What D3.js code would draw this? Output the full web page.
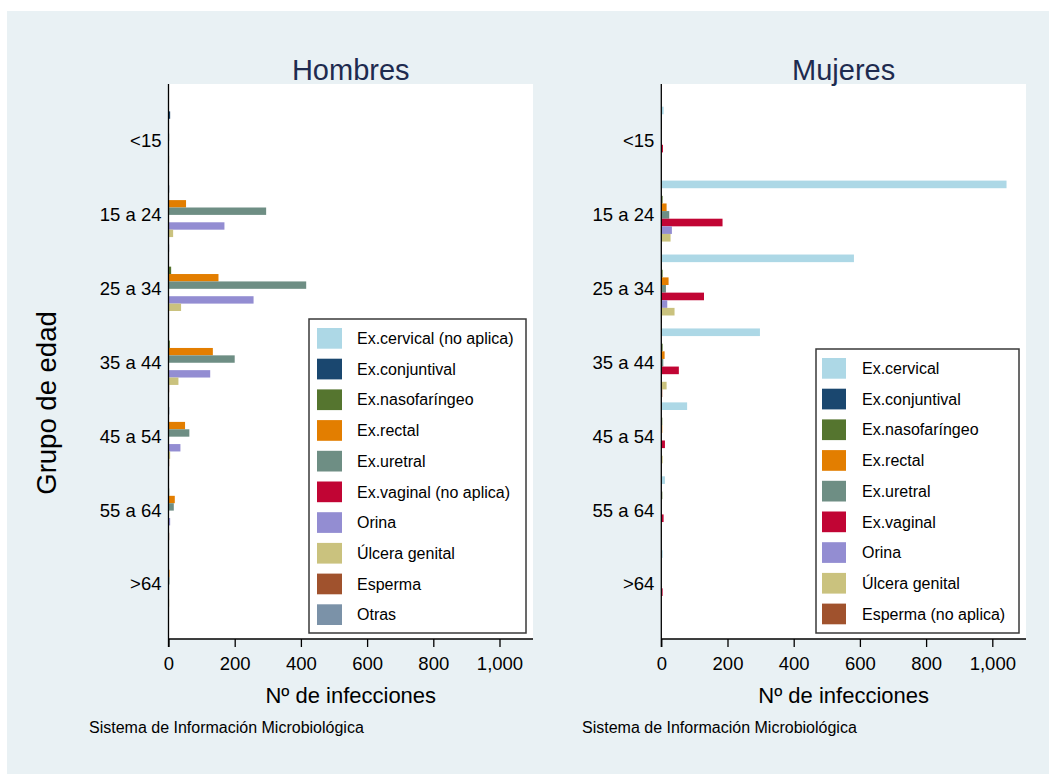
<!DOCTYPE html>
<html><head><meta charset="utf-8">
<script src="https://cdn.jsdelivr.net/npm/d3@7"></script>
<style>body{margin:0;background:#fff}svg{display:block;font-family:"Liberation Sans",Arial,sans-serif}</style>
</head><body><svg id="c" width="1049" height="774"></svg>
<script>
const groups = ["<15","15 a 24","25 a 34","35 a 44","45 a 54","55 a 64",">64"];
const xTicks = [0,200,400,600,800,1000];
const seriesMen = ["Ex.cervical (no aplica)","Ex.conjuntival","Ex.nasofaríngeo","Ex.rectal","Ex.uretral","Ex.vaginal (no aplica)","Orina","Úlcera genital","Esperma","Otras"];
const seriesWomen = ["Ex.cervical","Ex.conjuntival","Ex.nasofaríngeo","Ex.rectal","Ex.uretral","Ex.vaginal","Orina","Úlcera genital","Esperma (no aplica)"];
const colorsMen = ["#add8e6","#1a476f","#55752f","#e37e00","#6e8e84","#c10534","#938dd2","#cac27e","#a0522d","#7b92a8"];
const colorsWomen = ["#add8e6","#1a476f","#55752f","#e37e00","#6e8e84","#c10534","#938dd2","#cac27e","#a0522d"];
// values per age group, in series order
const valuesMen = [
  [0,5,0,0,2,0,0,2,0,1],
  [0,2,0,53,295,1,169,14,0,2],
  [0,1,8,151,416,1,257,38,1,1],
  [0,1,4,134,200,0,126,30,2,0],
  [0,2,0,50,63,0,36,5,2,0],
  [0,0,2,19,16,0,5,0,2,0],
  [0,0,0,3,3,0,0,2,0,0]
];
const valuesWomen = [
  [7,2,2,0,0,5,1,2,0],
  [1043,0,4,16,24,185,32,28,0],
  [582,2,4,22,14,129,18,40,2],
  [298,0,4,10,6,53,2,16,3],
  [78,0,3,3,0,11,0,4,0],
  [11,0,3,0,0,7,0,2,0],
  [4,0,0,0,0,4,0,0,0]
];

const svg = d3.select("#c");
const FONT = '"Liberation Sans",Arial,sans-serif';
svg.append("rect").attr("x",7).attr("y",11).attr("width",1042).attr("height",763).attr("fill","#e9f1f4");

const plotTop = 84, plotBottom = 639;
const y = d3.scaleBand().domain(groups).range([104, 621.5]).padding(0);

function panel(opt){
  const g = svg.append("g");
  const x = d3.scaleLinear().domain([0,1100]).range([opt.x0, opt.x0+364.1]);
  g.append("rect").attr("x",opt.x0).attr("y",plotTop).attr("width",opt.x1-opt.x0).attr("height",plotBottom-plotTop).attr("fill","#fff");
  const inner = d3.scaleBand().domain(d3.range(opt.series.length)).range([0,y.bandwidth()]).paddingOuter(opt.pad).paddingInner(0);
  opt.values.forEach((row,gi)=>{
    g.selectAll(null).data(row).enter().append("rect")
      .attr("x",x(0))
      .attr("y",(d,i)=>y(groups[gi])+inner(i))
      .attr("height",inner.bandwidth())
      .attr("width",d=>x(d)-x(0))
      .attr("fill",(d,i)=>opt.colors[i]);
  });
  const xa = g.append("g").attr("transform",`translate(0,${plotBottom})`)
    .call(d3.axisBottom(x).tickValues(xTicks).tickFormat(d3.format(",")).tickSize(8).tickPadding(10).tickSizeOuter(0));
  xa.select(".domain").remove();
  xa.selectAll("line").attr("stroke","#000").attr("stroke-width",1.3);
  xa.selectAll("text").attr("font-family",FONT).attr("font-size",18.5).attr("fill","#000");
  g.append("line").attr("x1",opt.x0).attr("x2",opt.x1).attr("y1",plotBottom).attr("y2",plotBottom).attr("stroke","#000").attr("stroke-width",1.3);
  const ya = g.append("g").attr("transform",`translate(${opt.x0},0)`)
    .call(d3.axisLeft(y).tickSize(0).tickPadding(7));
  ya.select(".domain").remove();
  ya.selectAll("text").attr("font-family",FONT).attr("font-size",18.5).attr("fill","#000");
  g.append("line").attr("x1",opt.x0).attr("x2",opt.x0).attr("y1",plotTop).attr("y2",plotBottom+8).attr("stroke","#000").attr("stroke-width",1.3);
  const cx = (opt.x0+opt.x1)/2;
  g.append("text").attr("x",cx).attr("y",80).attr("text-anchor","middle").attr("font-size",29).attr("fill","#1e2b4f").text(opt.title);
  g.append("text").attr("x",cx).attr("y",703).attr("text-anchor","middle").attr("font-size",22).attr("fill","#000").text("Nº de infecciones");
  g.append("text").attr("x",opt.noteX).attr("y",733).attr("font-size",16).attr("fill","#000").text("Sistema de Información Microbiológica");
  const L = opt.legend;
  g.append("rect").attr("x",L.x).attr("y",L.y).attr("width",L.w).attr("height",L.h).attr("fill","#fff").attr("stroke","#3a3a3a").attr("stroke-width",1.5);
  const items = g.selectAll(null).data(opt.series).enter().append("g")
    .attr("transform",(d,i)=>`translate(${L.x+L.sx},${L.y+L.sy+i*30.7})`);
  items.append("rect").attr("width",L.sw).attr("height",20.7).attr("fill",(d,i)=>opt.colors[i]);
  items.append("text").attr("x",L.tx).attr("y",16).attr("font-size",16).attr("fill","#000").text(d=>d);
}

panel({x0:168.5,x1:533,series:seriesMen,colors:colorsMen,values:valuesMen,pad:0,title:"Hombres",noteX:89,
  legend:{x:309,y:319,w:217,h:314,sx:8,sy:9,sw:25,tx:40}});
panel({x0:661.3,x1:1026,series:seriesWomen,colors:colorsWomen,values:valuesWomen,pad:0.35,title:"Mujeres",noteX:582,
  legend:{x:816,y:349,w:203,h:284,sx:6,sy:9,sw:24,tx:40}});

svg.append("text").attr("transform","translate(56,403) rotate(-90)").attr("text-anchor","middle")
  .attr("font-size",27.5).attr("font-family",FONT).attr("fill","#000").text("Grupo de edad");
</script></body></html>
